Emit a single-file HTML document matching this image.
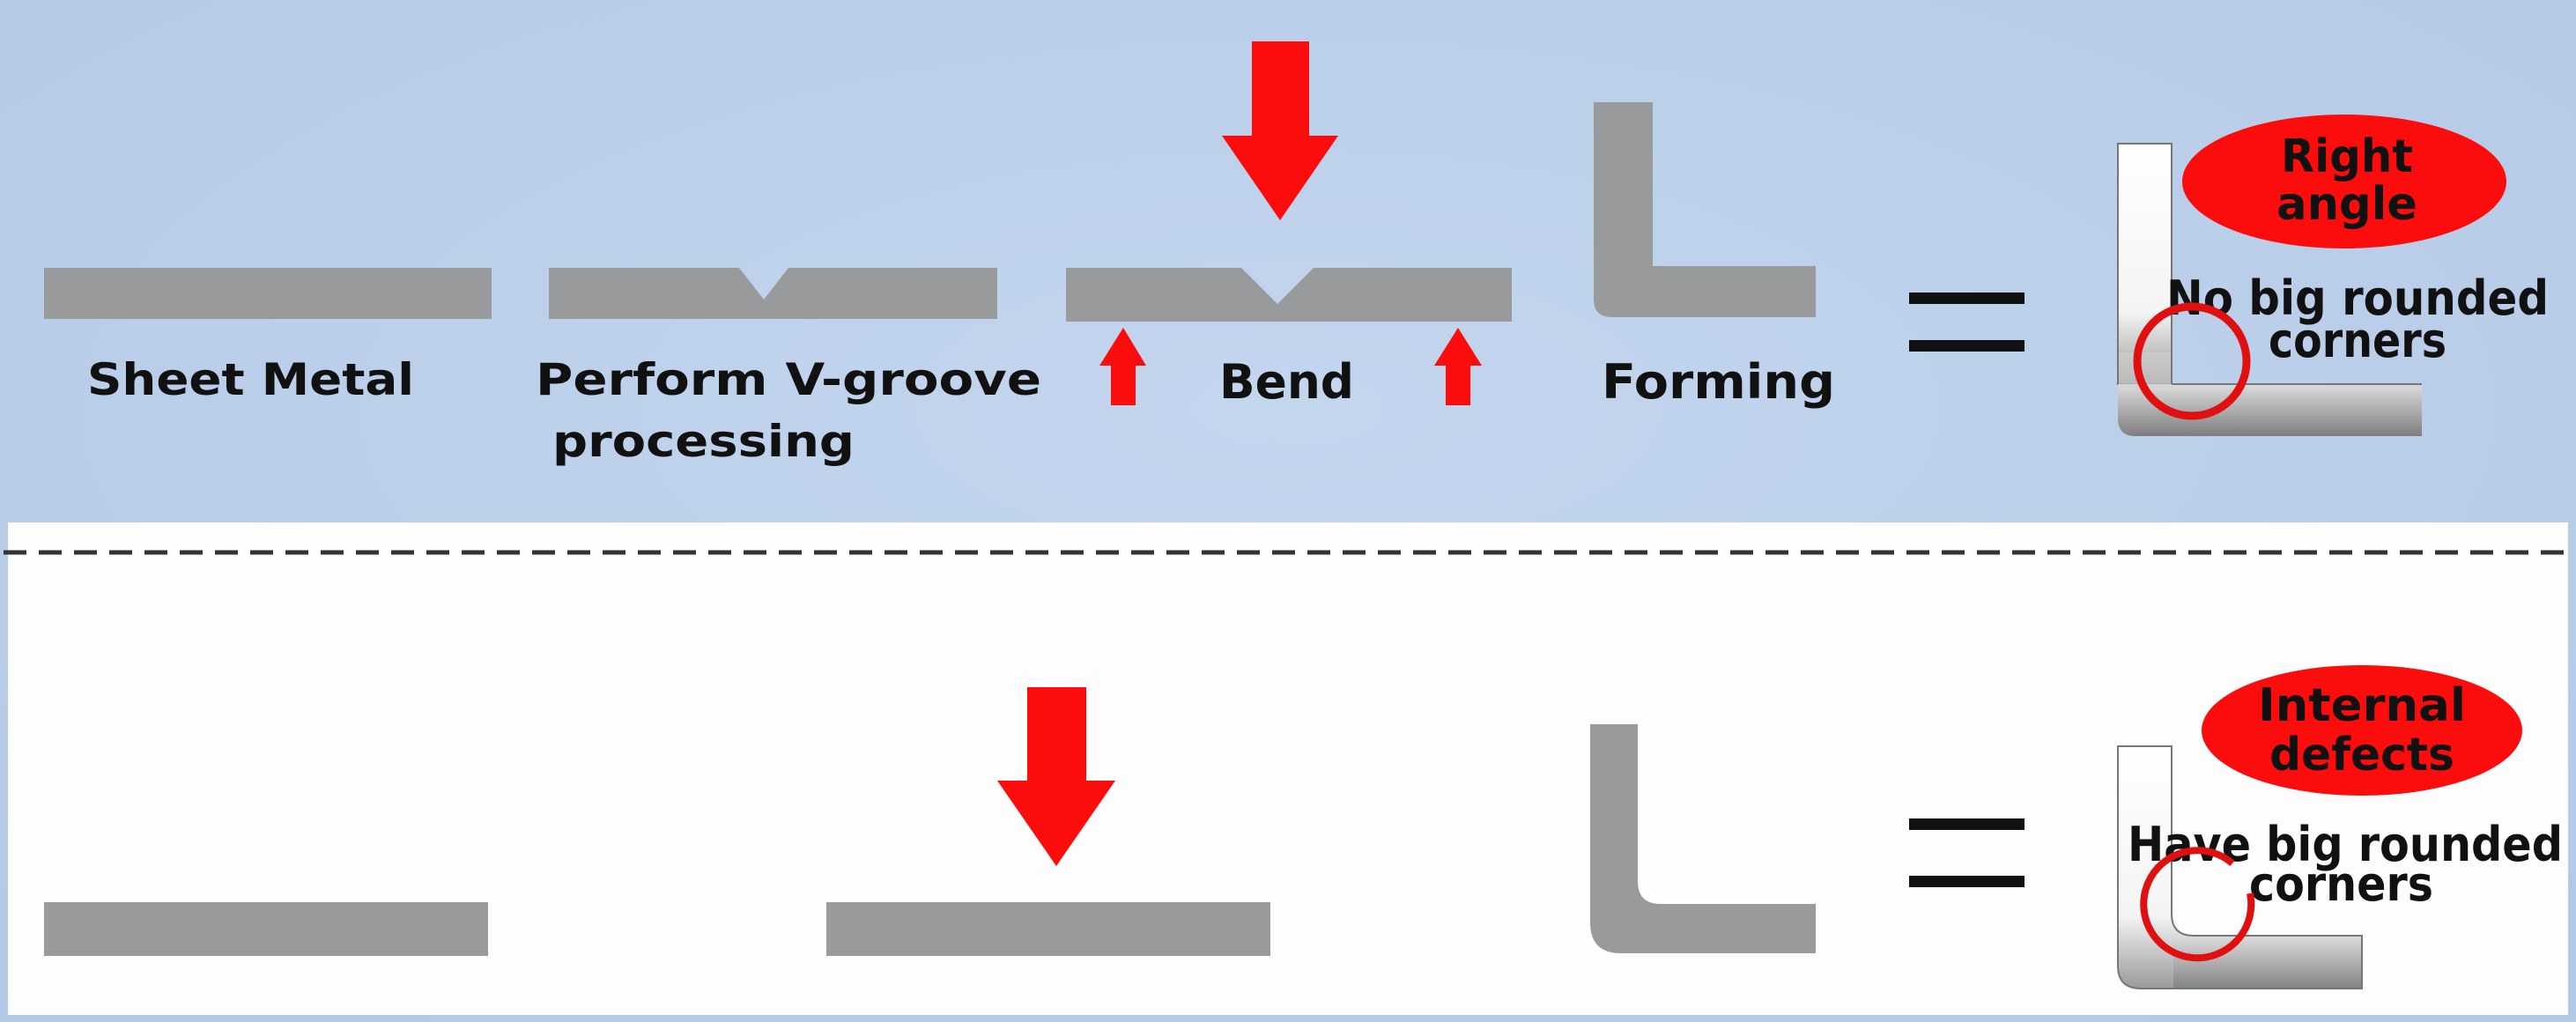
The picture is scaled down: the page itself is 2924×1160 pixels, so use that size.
<!DOCTYPE html>
<html><head><meta charset="utf-8"><style>
html,body{margin:0;padding:0;background:#b8cce8;}
svg{display:block}
text{font-family:"DejaVu Sans","Liberation Sans",sans-serif;font-weight:bold;fill:#111;}
</style></head><body>
<svg width="2924" height="1160" viewBox="0 0 2924 1160" xmlns="http://www.w3.org/2000/svg">
<defs>
<linearGradient id="gv" x1="0" y1="0" x2="0" y2="1">
<stop offset="0" stop-color="#ffffff"/><stop offset="0.7" stop-color="#f4f4f4"/><stop offset="1" stop-color="#9a9a9a"/></linearGradient>
<linearGradient id="gh" x1="0" y1="0" x2="0" y2="1">
<stop offset="0" stop-color="#dcdcdc"/><stop offset="1" stop-color="#7e7e7e"/></linearGradient>
<radialGradient id="bg" cx="0.5" cy="0.4" r="0.7"><stop offset="0" stop-color="#c4d6ee"/><stop offset="1" stop-color="#b4c9e6"/></radialGradient>
</defs>
<rect x="0" y="0" width="2924" height="1160" fill="url(#bg)"/>
<rect x="9" y="593" width="2906" height="559" fill="#fdfdfd"/>
<line x1="0" y1="627" x2="2924" y2="627" stroke="#333" stroke-width="5" stroke-dasharray="26 14" stroke-dashoffset="-4"/>

<!-- top row -->
<rect x="50" y="304" width="508" height="58" fill="#999a9c"/>
<text x="99" y="448" font-size="50" textLength="371" lengthAdjust="spacingAndGlyphs">Sheet Metal</text>

<path d="M623 304 H839 L867 340 L895 304 H1132 V362 H623Z" fill="#999a9c"/>
<text x="608" y="448" font-size="50" textLength="574" lengthAdjust="spacingAndGlyphs">Perform V-groove</text>
<text x="627" y="518" font-size="50" textLength="343" lengthAdjust="spacingAndGlyphs">processing</text>

<path d="M1210 304 H1409 L1450 345 L1491 304 H1716 V365 H1210Z" fill="#999a9c"/>
<path d="M1421 47 H1486 V154 H1519 L1453 250 L1387 154 H1421Z" fill="#fb0d0d"/>
<path d="M1275 372 L1301 415 H1289 V460 H1261 V415 H1248Z" fill="#fb0d0d"/>
<path d="M1655 372 L1682 415 H1669 V460 H1641 V415 H1628Z" fill="#fb0d0d"/>
<text x="1384" y="452" font-size="54" textLength="153" lengthAdjust="spacingAndGlyphs">Bend</text>

<path d="M1809 116 H1876 V302 H2061 V360 H1830 Q1809 360 1809 340Z" fill="#999a9c"/>
<text x="1818" y="452" font-size="54" textLength="265" lengthAdjust="spacingAndGlyphs">Forming</text>

<rect x="2167" y="332" width="131" height="13" fill="#111"/>
<rect x="2167" y="386" width="131" height="13" fill="#111"/>

<path d="M2404 163 H2465 V436 H2404Z" fill="url(#gv)" stroke="#777" stroke-width="2"/>
<path d="M2404 436 H2749 V495 H2424 Q2404 495 2404 475Z" fill="url(#gh)"/>
<rect x="2405" y="400" width="59" height="40" fill="#d0d0d0" opacity="0.6"/>
<line x1="2465" y1="163" x2="2465" y2="436" stroke="#777" stroke-width="2"/>
<line x1="2465" y1="436" x2="2749" y2="436" stroke="#777" stroke-width="2"/>
<ellipse cx="2661" cy="206" rx="184" ry="76" fill="#fb0d0d"/>
<text x="2664" y="195" font-size="52" text-anchor="middle" textLength="150" lengthAdjust="spacingAndGlyphs">Right</text>
<text x="2664" y="249" font-size="52" text-anchor="middle" textLength="160" lengthAdjust="spacingAndGlyphs">angle</text>
<text x="2459" y="357" font-size="54" textLength="434" lengthAdjust="spacingAndGlyphs">No big rounded</text>
<text x="2575" y="405" font-size="54" textLength="202" lengthAdjust="spacingAndGlyphs">corners</text>
<ellipse cx="2488" cy="410" rx="62" ry="62" fill="none" stroke="#e01010" stroke-width="9"/>

<!-- bottom row -->
<rect x="50" y="1024" width="504" height="61" fill="#999a9c"/>
<rect x="938" y="1024" width="504" height="61" fill="#999a9c"/>
<path d="M1166 780 H1233 V886 H1266 L1199 983 L1132 886 H1166Z" fill="#fb0d0d"/>
<path d="M1805 822 H1859 V1000 Q1859 1026 1885 1026 H2061 V1082 H1840 Q1805 1082 1805 1047Z" fill="#999a9c"/>
<rect x="2167" y="929" width="131" height="13" fill="#111"/>
<rect x="2167" y="994" width="131" height="13" fill="#111"/>

<path d="M2404 847 H2465 V1037 Q2465 1062 2490 1062 H2681 V1122 H2430 Q2404 1122 2404 1096Z" fill="url(#gv)" stroke="#777" stroke-width="2"/>
<rect x="2467" y="1063" width="213" height="58" fill="url(#gh)" opacity="0.8"/>
<ellipse cx="2681" cy="829" rx="182" ry="74" fill="#fb0d0d"/>
<text x="2681" y="818" font-size="52" text-anchor="middle" textLength="236" lengthAdjust="spacingAndGlyphs">Internal</text>
<text x="2681" y="874" font-size="52" text-anchor="middle" textLength="210" lengthAdjust="spacingAndGlyphs">defects</text>
<text x="2415" y="977" font-size="54" textLength="494" lengthAdjust="spacingAndGlyphs">Have big rounded</text>
<text x="2553" y="1022" font-size="54" textLength="209" lengthAdjust="spacingAndGlyphs">corners</text>
<path d="M2534 980 A61 61 0 1 0 2554 1014" fill="none" stroke="#e01010" stroke-width="8"/>
</svg>
</body></html>
